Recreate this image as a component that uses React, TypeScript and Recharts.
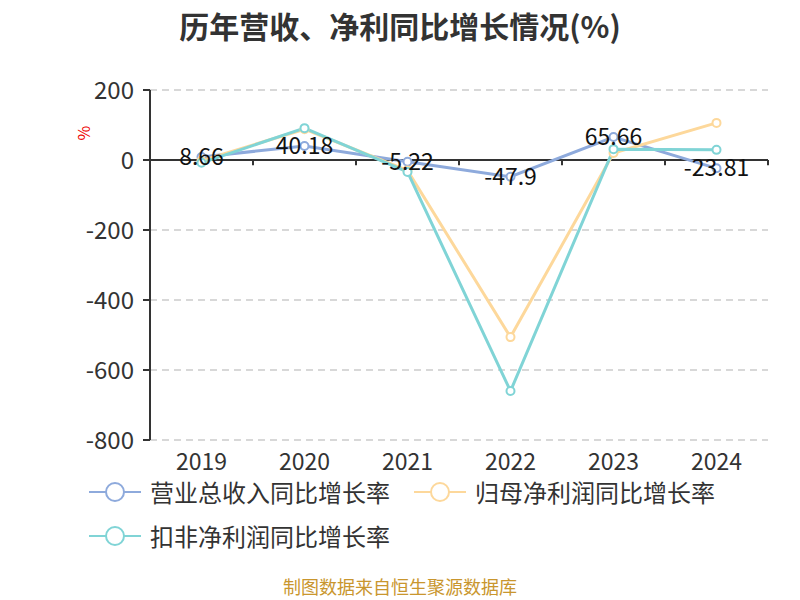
import React from "react";
import { CartesianGrid, LabelList, Line, LineChart, ReferenceLine, XAxis, YAxis } from "recharts";

const years = ["2019", "2020", "2021", "2022", "2023", "2024"];
const revenueGrowth = [8.66, 40.18, -5.22, -47.9, 65.66, -23.81];
const netProfitGrowth = [-2, 88, -30, -506, 20, 106];
const deductedProfitGrowth = [-8, 91, -34, -660, 31, 29];
const yTicks = [-800, -600, -400, -200, 0, 200];
const boundaries = [-0.5, 0.5, 1.5, 2.5, 3.5, 4.5, 5.5];

const seriesNames = ["营业总收入同比增长率", "归母净利润同比增长率", "扣非净利润同比增长率"];
const colors = ["#8eaadc", "#fdd89b", "#80d4d6"];

const data = years.map((year, i) => ({
  x: i,
  year,
  revenue: revenueGrowth[i],
  netProfit: netProfitGrowth[i],
  deducted: deductedProfitGrowth[i],
}));

const FONT = '"Noto Sans CJK SC", "Noto Sans", sans-serif';

const dot = (color: string) => ({ r: 4, fill: "#fff", stroke: color, strokeWidth: 2 });

function ValueLabel(props: any) {
  const { x, y, value } = props;
  return (
    <text x={x} y={y - 2} textAnchor="middle" dominantBaseline="central" fontSize={23} fill="#111" fontFamily={FONT}>
      {value}
    </text>
  );
}

function LegendItem({ name, color, left, top }: { name: string; color: string; left: number; top: number }) {
  return (
    <div style={{ position: "absolute", left, top, height: 26, display: "flex", alignItems: "center" }}>
      <svg width={52} height={24}>
        <line x1={0} y1={12} x2={52} y2={12} stroke={color} strokeWidth={2} />
        <circle cx={26} cy={12} r={9} fill="#fff" stroke={color} strokeWidth={2} />
      </svg>
      <span style={{ marginLeft: 9, fontSize: 24, lineHeight: "26px", color: "#333", whiteSpace: "nowrap" }}>{name}</span>
    </div>
  );
}

export default function App() {
  return (
    <div style={{ position: "absolute", left: 0, top: 0, width: 800, height: 600, background: "#fff", fontFamily: FONT, overflow: "hidden" }}>
      <div style={{ position: "absolute", top: 3, width: 800, textAlign: "center", fontSize: 30, fontWeight: 700, color: "#333" }}>
        历年营收、净利同比增长情况(%)
      </div>
      <div style={{ position: "absolute", left: 76, top: 121, fontSize: 16, color: "#e00", transform: "rotate(-90deg)" }}>%</div>
      <LineChart width={800} height={600} data={data} margin={{ top: 90, right: 32, bottom: 120, left: 80 }}>
        <CartesianGrid vertical={false} stroke="#ccc" strokeDasharray="7 5" strokeWidth={1.5} />
        <XAxis
          dataKey="x"
          type="number"
          domain={[-0.5, 5.5]}
          ticks={[0, 1, 2, 3, 4, 5]}
          tickFormatter={(i: number) => years[i]}
          axisLine={false}
          tickLine={false}
          height={40}
          tickSize={7}
          tickMargin={7}
          tick={{ fontSize: 23, fill: "#333", fontFamily: FONT }}
        />
        <YAxis
          domain={[-800, 200]}
          ticks={yTicks}
          width={70}
          axisLine={{ stroke: "#333", strokeWidth: 2 }}
          tickLine={{ stroke: "#333", strokeWidth: 2 }}
          tickSize={7}
          tickMargin={9}
          tick={{ fontSize: 24, fill: "#333", fontFamily: FONT }}
        />
        <ReferenceLine y={0} stroke="#333" strokeWidth={2} />
        {boundaries.map((b) => (
          <ReferenceLine key={b} segment={[{ x: b, y: 0 }, { x: b, y: -15 }]} stroke="#333" strokeWidth={2} />
        ))}
        <Line dataKey="revenue" stroke={colors[0]} strokeWidth={3} dot={dot(colors[0])} activeDot={false} isAnimationActive={false} />
        <Line dataKey="netProfit" stroke={colors[1]} strokeWidth={3} dot={dot(colors[1])} activeDot={false} isAnimationActive={false} />
        <Line dataKey="deducted" stroke={colors[2]} strokeWidth={3} dot={dot(colors[2])} activeDot={false} isAnimationActive={false} />
        <Line dataKey="revenue" stroke="none" dot={false} activeDot={false} legendType="none" isAnimationActive={false}>
          <LabelList dataKey="revenue" content={<ValueLabel />} />
        </Line>
      </LineChart>
      <LegendItem name={seriesNames[0]} color={colors[0]} left={89} top={479} />
      <LegendItem name={seriesNames[1]} color={colors[1]} left={414} top={479} />
      <LegendItem name={seriesNames[2]} color={colors[2]} left={89} top={523} />
      <div style={{ position: "absolute", top: 577, width: 800, textAlign: "center", fontSize: 18, lineHeight: "18px", color: "#c9962e" }}>
        制图数据来自恒生聚源数据库
      </div>
    </div>
  );
}
